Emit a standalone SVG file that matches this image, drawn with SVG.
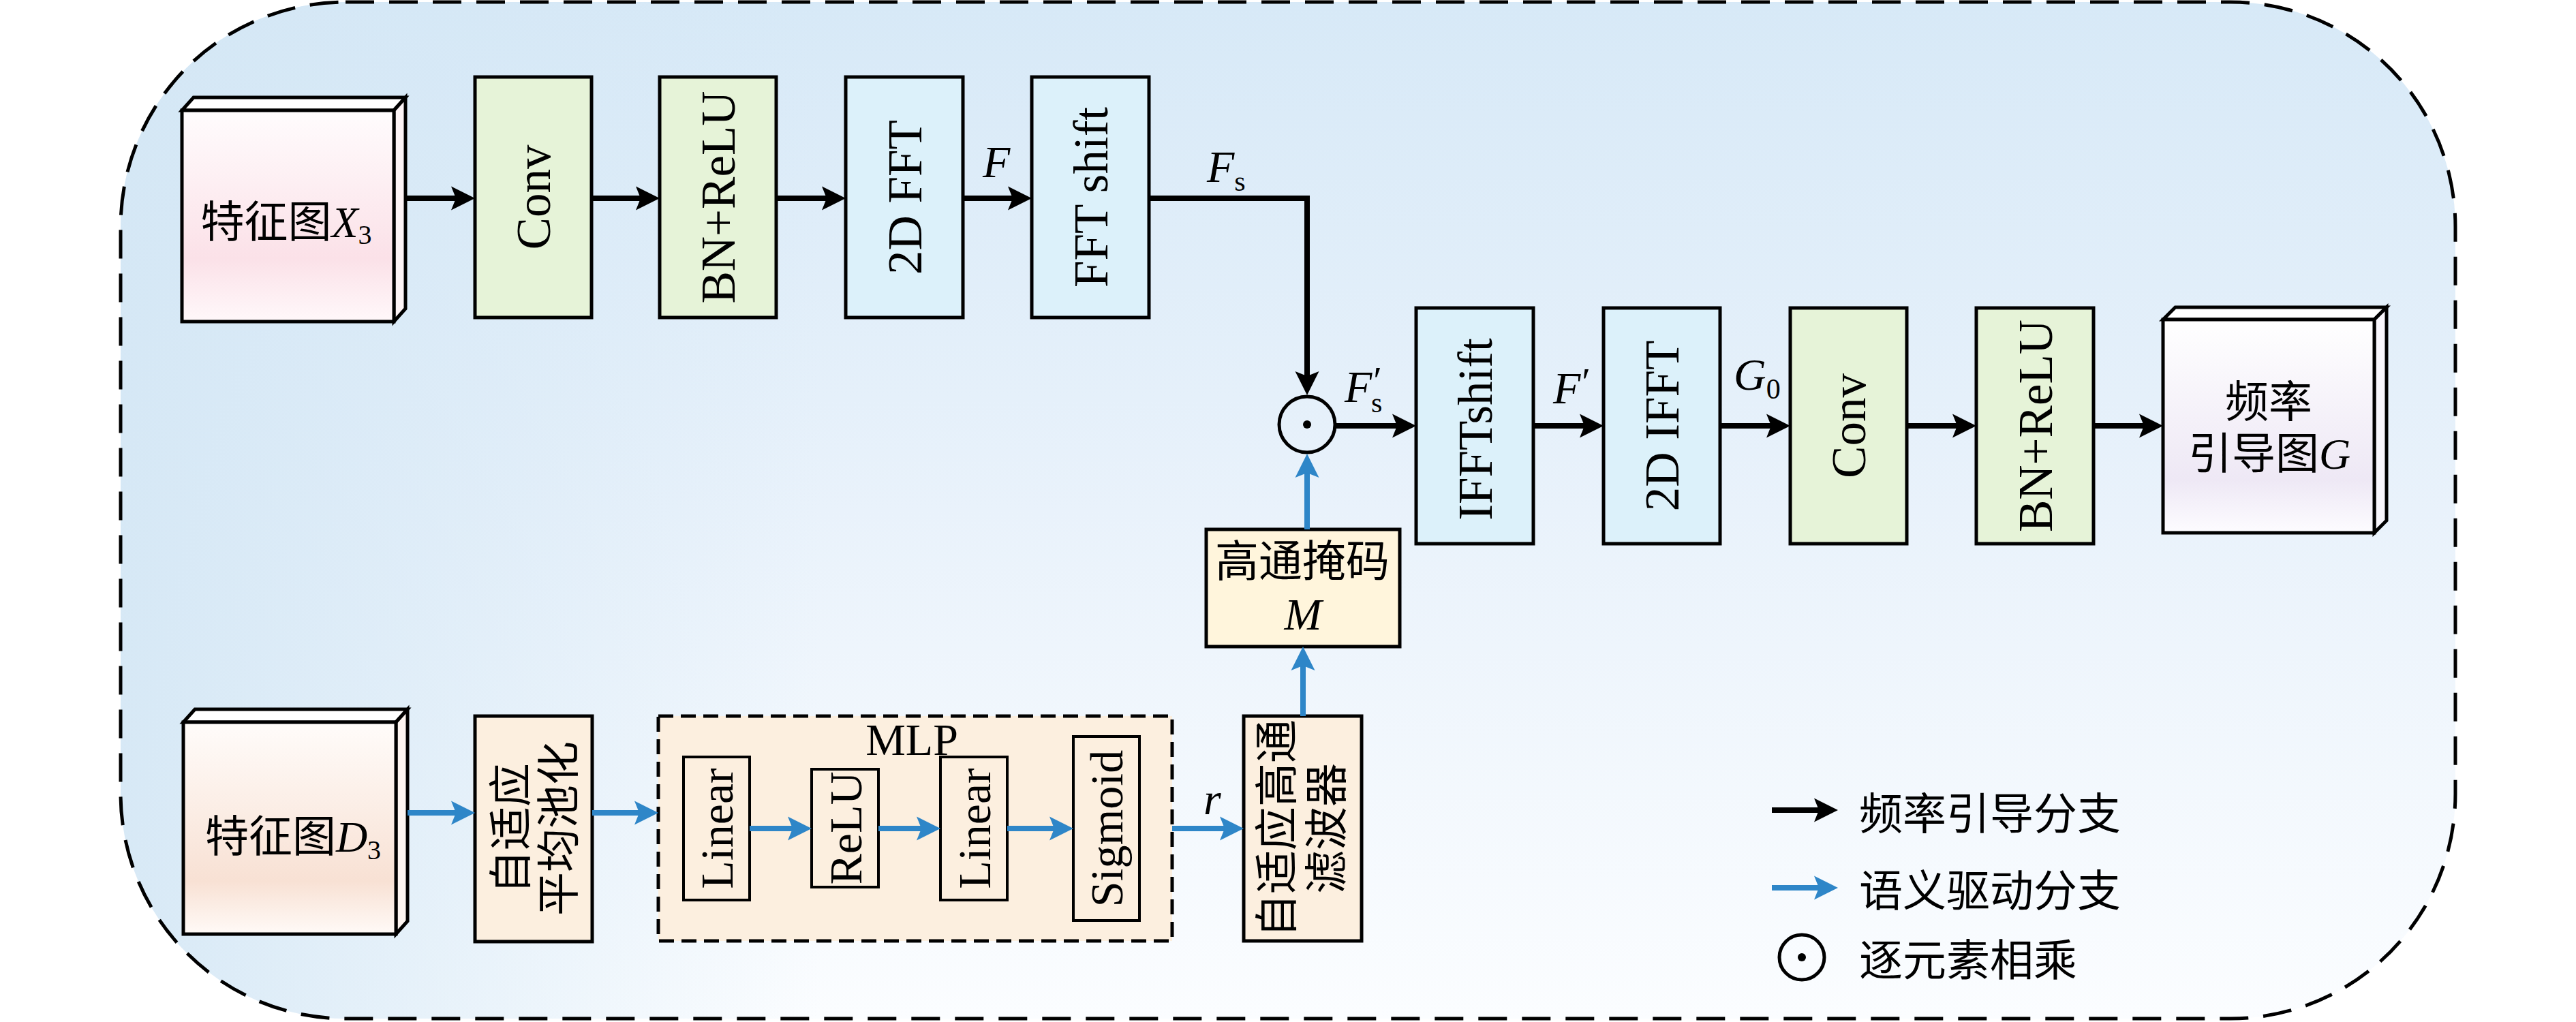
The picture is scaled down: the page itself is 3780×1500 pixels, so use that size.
<svg xmlns="http://www.w3.org/2000/svg" width="3780" height="1500" viewBox="0 0 3780 1500">
<style>
.box{stroke:#000;stroke-width:5}
.green{fill:#e6f3d8}
.cyan{fill:#dcf1fa}
.peach{fill:#fcefdf}
.cream{fill:#fff5dc}
.inner{fill:none;stroke:#000;stroke-width:4}
.lbl{font-family:"Liberation Serif","Noto Sans CJK SC",serif;font-size:71px;fill:#000}
.lbls{font-family:"Liberation Serif","Noto Sans CJK SC",serif;font-size:68px;fill:#000}
.cjk{font-family:"Liberation Serif","Noto Sans CJK SC",serif;font-size:64px;fill:#000}
.math{font-family:"Liberation Serif",serif;font-style:italic;font-size:66px;fill:#000}
.sub{font-family:"Liberation Serif",serif;font-style:normal;font-size:42px;fill:#000}
.rm{font-family:"Liberation Serif",serif;font-size:66px;fill:#000}
.ck{fill:none;stroke:#000;stroke-width:8;stroke-linejoin:miter}
.cb{fill:none;stroke:#2e86c8;stroke-width:8}
</style>
<defs>
<linearGradient id="bgV" x1="0" y1="0" x2="0" y2="1">
<stop offset="0" stop-color="#d7e9f7"/>
<stop offset="0.5" stop-color="#e9f2fb"/>
<stop offset="1" stop-color="#fbfdff"/>
</linearGradient>
<linearGradient id="bgH" x1="0" y1="0" x2="1" y2="0">
<stop offset="0" stop-color="#d4e7f5" stop-opacity="0.9"/>
<stop offset="0.3" stop-color="#d4e7f5" stop-opacity="0"/>
</linearGradient>
<linearGradient id="gPink" x1="0" y1="0" x2="0" y2="1">
<stop offset="0" stop-color="#fffcfd"/>
<stop offset="0.7" stop-color="#fbe1e8"/>
<stop offset="1" stop-color="#fff8fa"/>
</linearGradient>
<linearGradient id="gPeach" x1="0" y1="0" x2="0" y2="1">
<stop offset="0" stop-color="#fffcfa"/>
<stop offset="0.75" stop-color="#f8e1d4"/>
<stop offset="1" stop-color="#fffaf7"/>
</linearGradient>
<linearGradient id="gLav" x1="0" y1="0" x2="0" y2="1">
<stop offset="0" stop-color="#ffffff"/>
<stop offset="0.75" stop-color="#eee8f5"/>
<stop offset="1" stop-color="#fdfcff"/>
</linearGradient>
<marker id="ak" viewBox="-16 -18 37 36" refX="0" refY="0" markerWidth="37" markerHeight="36" markerUnits="userSpaceOnUse" orient="auto">
<path d="M20,0 L-15,-17.5 L-8,0 L-15,17.5 Z" fill="#000"/>
</marker>
<marker id="ab" viewBox="-16 -18 37 36" refX="0" refY="0" markerWidth="37" markerHeight="36" markerUnits="userSpaceOnUse" orient="auto">
<path d="M20,0 L-15,-17.5 L-8,0 L-15,17.5 Z" fill="#2e86c8"/>
</marker>
</defs>

<g id="frame">
<rect x="177" y="3" width="3426" height="1492" rx="330" ry="330" fill="url(#bgV)"/>
<rect x="177" y="3" width="3426" height="1492" rx="330" ry="330" fill="url(#bgH)" stroke="#000" stroke-width="5" stroke-dasharray="42 22"/>
</g>

<g id="node-X3">
<polygon points="267,162 284,143 595,143 578,162" fill="#ffffff" class="box"/>
<polygon points="578,162 595,143 595,453 578,472" fill="#fdf4f6" class="box"/>
<rect x="267" y="162" width="311" height="310" fill="url(#gPink)" class="box"/>
<text class="cjk" x="420" y="348" text-anchor="middle">特征图<tspan font-style="italic">X</tspan><tspan font-size="40" dy="10">3</tspan></text>
</g>

<g id="node-conv1">
<rect x="697" y="113" width="171" height="353" class="box green"/>
<text class="lbl" transform="translate(782.5,289.5) rotate(-90)" text-anchor="middle" dy="0.35em">Conv</text>
</g>
<g id="node-bnrelu1">
<rect x="968" y="113" width="171" height="353" class="box green"/>
<text class="lbl" transform="translate(1053.5,289.5) rotate(-90)" text-anchor="middle" dy="0.35em">BN+ReLU</text>
</g>
<g id="node-fft">
<rect x="1241" y="113" width="172" height="353" class="box cyan"/>
<text class="lbl" transform="translate(1327,289.5) rotate(-90)" text-anchor="middle" dy="0.35em">2D FFT</text>
</g>
<g id="node-fftshift">
<rect x="1514" y="113" width="172" height="353" class="box cyan"/>
<text class="lbl" transform="translate(1600,289.5) rotate(-90)" text-anchor="middle" dy="0.35em">FFT shift</text>
</g>

<g id="node-mul">
<circle cx="1918" cy="623" r="41" fill="none" stroke="#000" stroke-width="5"/>
<circle cx="1918" cy="623" r="6" fill="#000"/>
</g>

<g id="node-ifftshift">
<rect x="2078" y="452" width="172" height="346" class="box cyan"/>
<text class="lbl" transform="translate(2164,630) rotate(-90)" text-anchor="middle" dy="0.35em">IFFTshift</text>
</g>
<g id="node-ifft">
<rect x="2353" y="452" width="171" height="346" class="box cyan"/>
<text class="lbl" transform="translate(2438.5,625) rotate(-90)" text-anchor="middle" dy="0.35em">2D IFFT</text>
</g>
<g id="node-conv2">
<rect x="2627" y="452" width="171" height="346" class="box green"/>
<text class="lbl" transform="translate(2712.5,625) rotate(-90)" text-anchor="middle" dy="0.35em">Conv</text>
</g>
<g id="node-bnrelu2">
<rect x="2900" y="452" width="172" height="346" class="box green"/>
<text class="lbl" transform="translate(2986,625) rotate(-90)" text-anchor="middle" dy="0.35em">BN+ReLU</text>
</g>

<g id="node-G">
<polygon points="3174,469 3192,451 3502,451 3484,469" fill="#ffffff" class="box"/>
<polygon points="3484,469 3502,451 3502,764 3484,782" fill="#f8f6fc" class="box"/>
<rect x="3174" y="469" width="310" height="313" fill="url(#gLav)" class="box"/>
<text class="cjk" x="3329" y="612" text-anchor="middle">频率</text>
<text class="cjk" x="3330" y="688" text-anchor="middle">引导图<tspan font-style="italic">G</tspan></text>
</g>

<g id="node-mask">
<rect x="1770" y="777" width="284" height="172" class="box cream"/>
<text class="cjk" x="1911" y="846" text-anchor="middle">高通掩码</text>
<text class="math" x="1912" y="924" text-anchor="middle" font-size="68">M</text>
</g>

<g id="node-D3">
<polygon points="269,1060 286,1041 598,1041 581,1060" fill="#ffffff" class="box"/>
<polygon points="581,1060 598,1041 598,1352 581,1371" fill="#fdf5f1" class="box"/>
<rect x="269" y="1060" width="312" height="311" fill="url(#gPeach)" class="box"/>
<text class="cjk" x="430" y="1250" text-anchor="middle">特征图<tspan font-style="italic">D</tspan><tspan font-size="40" dy="11">3</tspan></text>
</g>

<g id="node-pool">
<rect x="697" y="1051" width="172" height="331" class="box peach"/>
<text class="cjk" transform="translate(783,1216) rotate(-90)" text-anchor="middle"><tspan x="0" y="-11">自适应</tspan><tspan x="0" y="59">平均池化</tspan></text>
</g>

<g id="node-mlp">
<rect x="966" y="1051" width="754" height="330" fill="#fcefdf" stroke="#000" stroke-width="5" stroke-dasharray="22 11"/>
<text class="rm" x="1338" y="1108" text-anchor="middle">MLP</text>
</g>
<g id="node-linear1">
<rect x="1003" y="1111" width="97" height="210" class="inner"/>
<text class="lbls" transform="translate(1051.5,1216) rotate(-90)" text-anchor="middle" dy="0.35em">Linear</text>
</g>
<g id="node-relu">
<rect x="1191" y="1129" width="98" height="173" class="inner"/>
<text class="lbls" transform="translate(1240,1215.5) rotate(-90)" text-anchor="middle" dy="0.35em">ReLU</text>
</g>
<g id="node-linear2">
<rect x="1380" y="1111" width="98" height="210" class="inner"/>
<text class="lbls" transform="translate(1429,1216) rotate(-90)" text-anchor="middle" dy="0.35em">Linear</text>
</g>
<g id="node-sigmoid">
<rect x="1575" y="1081" width="97" height="270" class="inner"/>
<text class="lbls" transform="translate(1623.5,1216) rotate(-90)" text-anchor="middle" dy="0.35em">Sigmoid</text>
</g>

<g id="node-filter">
<rect x="1825" y="1051" width="173" height="330" class="box peach"/>
<text class="cjk" transform="translate(1911,1216) rotate(-90)" text-anchor="middle"><tspan x="0" y="-15">自适应高通</tspan><tspan x="0" y="58">滤波器</tspan></text>
</g>

<g id="connectors">
<path class="ck" d="M595,291 H677" marker-end="url(#ak)"/>
<path class="ck" d="M868,291 H948" marker-end="url(#ak)"/>
<path class="ck" d="M1139,291 H1221" marker-end="url(#ak)"/>
<path class="ck" d="M1413,291 H1494" marker-end="url(#ak)"/>
<path class="ck" d="M1686,291 H1918 V560" marker-end="url(#ak)"/>
<path class="ck" d="M1959,625 H2058" marker-end="url(#ak)"/>
<path class="ck" d="M2250,625 H2333" marker-end="url(#ak)"/>
<path class="ck" d="M2524,625 H2607" marker-end="url(#ak)"/>
<path class="ck" d="M2798,625 H2880" marker-end="url(#ak)"/>
<path class="ck" d="M3072,625 H3154" marker-end="url(#ak)"/>
<path class="cb" d="M1918,777 V686" marker-end="url(#ab)"/>
<path class="cb" d="M1912,1051 V969" marker-end="url(#ab)"/>
<path class="cb" d="M598,1193 H677" marker-end="url(#ab)"/>
<path class="cb" d="M869,1193 H946" marker-end="url(#ab)"/>
<path class="cb" d="M1100,1216 H1171" marker-end="url(#ab)"/>
<path class="cb" d="M1289,1216 H1360" marker-end="url(#ab)"/>
<path class="cb" d="M1478,1216 H1555" marker-end="url(#ab)"/>
<path class="cb" d="M1720,1216 H1805" marker-end="url(#ab)"/>
</g>

<g id="edge-labels">
<text class="math" x="1442" y="260">F</text>
<text class="math" x="1771" y="267">F<tspan class="sub" dy="13">s</tspan></text>
<text class="math" x="1973" y="590">F<tspan font-style="normal" font-size="58" dx="2" dy="-12">′</tspan><tspan class="sub" dx="-16" dy="27">s</tspan></text>
<text class="math" x="2279" y="592">F<tspan font-style="normal" font-size="58" dx="2" dy="-12">′</tspan></text>
<text class="math" x="2544" y="572">G<tspan class="sub" dy="13">0</tspan></text>
<text class="math" x="1766" y="1195">r</text>
</g>

<g id="legend">
<path class="ck" d="M2600,1189 H2677" marker-end="url(#ak)"/>
<text class="cjk" x="2728" y="1217">频率引导分支</text>
<path class="cb" d="M2600,1303 H2677" marker-end="url(#ab)"/>
<text class="cjk" x="2728" y="1330">语义驱动分支</text>
<circle cx="2644" cy="1405" r="33" fill="none" stroke="#000" stroke-width="5"/>
<circle cx="2644" cy="1405" r="6" fill="#000"/>
<text class="cjk" x="2728" y="1432">逐元素相乘</text>
</g>
</svg>
